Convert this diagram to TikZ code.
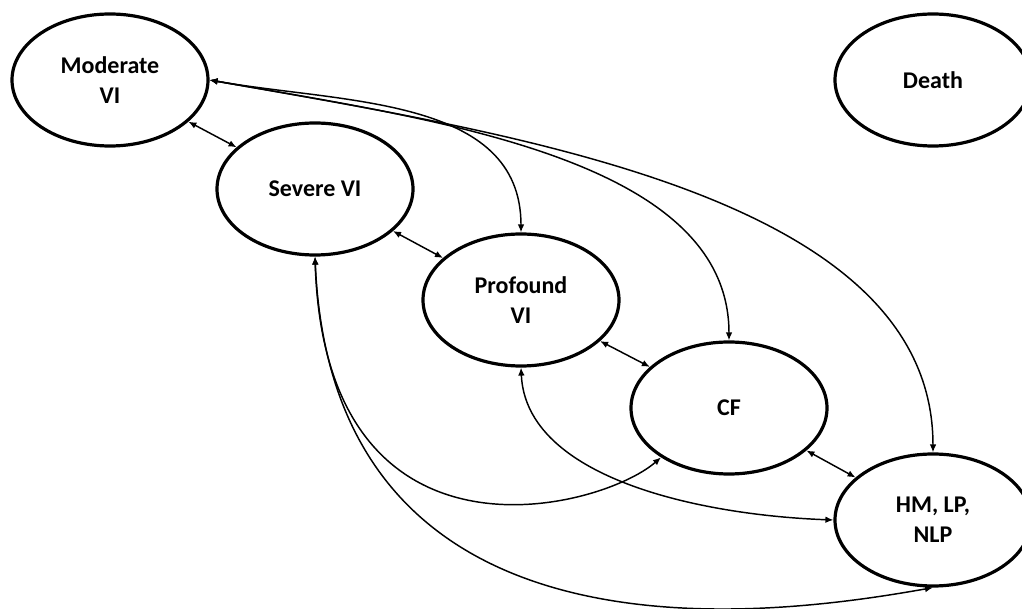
\documentclass[tikz,border=0pt]{standalone}
\usepackage{fontspec}
\setmainfont{Carlito}
\usetikzlibrary{shapes.geometric,arrows.meta}
\begin{document}
\begin{tikzpicture}
		[	x=0.75pt,y=0.75pt,
		state/.style={ellipse,draw=black,line width=2.4pt,inner sep=0pt,minimum width=147pt,minimum height=99pt,align=center,font=\fontsize{18}{22.5}\selectfont\bfseries},
		link/.style={line width=1.1pt,{Latex[length=6pt,width=5pt]}-{Latex[length=6pt,width=5pt]}}
		]
		\useasboundingbox (0,0) rectangle (1022,-609);
		\node[state] (mod) at (110,-80){Moderate\\VI};
		\node[state] (death) at (933,-80){Death};
		\node[state] (sev) at (315,-189){Severe VI};
		\node[state] (prof) at (521,-300){Profound\\VI};
		\node[state] (cf) at (729,-408){CF};
		\node[state] (hm) at (933,-520){HM, LP,\\NLP};
\draw[link] (mod) -- (sev);
\draw[link] (sev) -- (prof);
\draw[link] (prof) -- (cf);
\draw[link] (cf) -- (hm);
\draw[link] (mod.east) to[out=-10,in=90] (prof.north);
\draw[link] (mod.east) to[out=-10,in=90,in looseness=.8] (cf.north);
\draw[link] (mod.east) to[out=-10,in=90,in looseness=.8] (hm.north);
\draw[link] (sev.south) .. controls +(10,-325) and +(-61,-53) .. (cf.-144);
\draw[link] (sev.south) .. controls +(18,-425) and +(-153,-27) .. (hm.south);
\draw[link] (prof.south) .. controls +(5,-110) and +(-135,5) .. (hm.west);
	\end{tikzpicture}
\end{document}
